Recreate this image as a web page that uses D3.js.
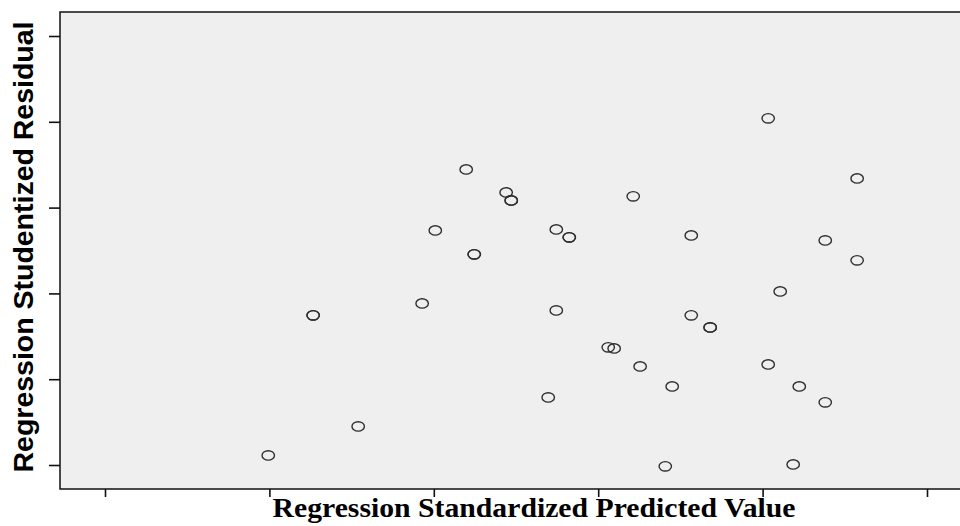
<!DOCTYPE html>
<html>
<head>
<meta charset="utf-8">
<script src="https://cdn.jsdelivr.net/npm/d3@7"></script>
<style>
  html, body { margin: 0; padding: 0; background: #ffffff; }
  svg { display: block; }
</style>
</head>
<body>
<svg id="chart" width="960" height="526"></svg>
<script>
// Regression Standardized Predicted Value
const predicted = [
  -2.007, -1.734, -1.734, -1.460, -1.071, -0.991, -0.803, -0.754, -0.754,
  -0.560, -0.529, -0.529, -0.304, -0.255, -0.255, -0.176, -0.176,
   0.061,  0.097,  0.213,  0.255,  0.408,  0.450,  0.566,  0.566,
   0.681,  0.681,  1.034,  1.034,  1.107,  1.186,  1.223,  1.381,  1.381,
   1.575,  1.575
];
// Regression Studentized Residual
const residual = [
  -1.888, -0.256, -0.256, -1.550, -0.117,  0.734,  1.445,  0.455,  0.455,
   1.177,  1.084,  1.084, -1.212,  0.746, -0.198,  0.653,  0.653,
  -0.629, -0.641,  1.131, -0.851, -2.016, -1.084,  0.676, -0.256,
  -0.396, -0.396,  2.040, -0.828,  0.023, -1.993, -1.084,  0.618, -1.270,
   1.340,  0.385
];
const xTicks = [-3, -2, -1, 0, 1, 2];
const yTicks = [-2, -1, 0, 1, 2, 3];
const xTitle = "Regression Standardized Predicted Value";
const yTitle = "Regression Studentized Residual";

const svg = d3.select("#chart");
const frame = { left: 60, top: 12, right: 962, bottom: 489 };

const x = d3.scaleLinear().domain([-3, 2]).range([105, 927]);
const y = d3.scaleLinear().domain([-2, 3]).range([465, 36]);

svg.append("rect")
  .attr("x", frame.left).attr("y", frame.top)
  .attr("width", frame.right - frame.left)
  .attr("height", frame.bottom - frame.top)
  .attr("fill", "#efefef")
  .attr("stroke", "#111").attr("stroke-width", 1.5);

// axes
const xAxis = d3.axisBottom(x).tickValues(xTicks).tickSize(8).tickFormat("");
const yAxis = d3.axisLeft(y).tickValues(yTicks).tickSize(11).tickFormat("");

const gx = svg.append("g").attr("transform", `translate(0,${frame.bottom})`).call(xAxis);
gx.select(".domain").remove();
gx.selectAll(".tick line").attr("stroke", "#111").attr("stroke-width", 1.6);

const gy = svg.append("g").attr("transform", `translate(${frame.left},0)`).call(yAxis);
gy.select(".domain").remove();
gy.selectAll(".tick line").attr("stroke", "#111").attr("stroke-width", 1.6);

// points
svg.append("g").selectAll("ellipse")
  .data(predicted.map((p, i) => ({ p, r: residual[i] })))
  .join("ellipse")
  .attr("cx", d => x(d.p))
  .attr("cy", d => y(d.r))
  .attr("rx", 6.2)
  .attr("ry", 4.7)
  .attr("fill", "none")
  .attr("stroke", "#2e2e2e")
  .attr("stroke-width", 1.4);

// titles
svg.append("text")
  .attr("x", 534).attr("y", 517)
  .attr("text-anchor", "middle")
  .attr("font-family", "'Liberation Serif', 'Times New Roman', serif")
  .attr("font-weight", "bold")
  .attr("font-size", 27)
  .attr("textLength", 523)
  .attr("lengthAdjust", "spacingAndGlyphs")
  .attr("fill", "#000")
  .text(xTitle);

svg.append("text")
  .attr("transform", "translate(33,247) rotate(-90)")
  .attr("text-anchor", "middle")
  .attr("font-family", "'Liberation Sans', Arial, sans-serif")
  .attr("font-weight", "bold")
  .attr("font-size", 28)
  .attr("textLength", 451)
  .attr("lengthAdjust", "spacingAndGlyphs")
  .attr("fill", "#000")
  .text(yTitle);
</script>
</body>
</html>
